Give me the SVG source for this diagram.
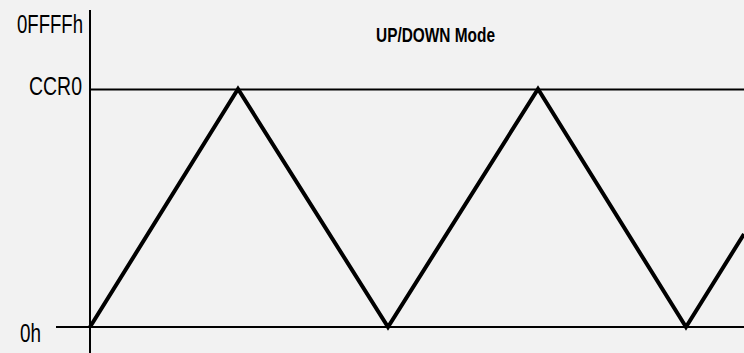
<svg xmlns="http://www.w3.org/2000/svg" width="744" height="353" viewBox="0 0 744 353">
<style>
.lbl{font-family:"Liberation Sans",Arial,sans-serif;font-size:25px;fill:#000}
.ttl{font-family:"Liberation Sans",Arial,sans-serif;font-size:20px;font-weight:bold;fill:#000}
.ax{stroke:#000;stroke-width:2;fill:none}
.wave{stroke:#000;stroke-width:4;fill:none;stroke-linejoin:miter}
</style>
<rect width="744" height="353" fill="#f2f2f2"/>
<g id="axes">
<line class="ax" x1="90" y1="10" x2="90" y2="353"/>
<line class="ax" x1="90" y1="89.5" x2="744" y2="89.5"/>
<line class="ax" x1="56" y1="327" x2="744" y2="327"/>
</g>
<g id="labels">
<text class="lbl" x="17" y="33" textLength="66" lengthAdjust="spacingAndGlyphs">0FFFFh</text>
<text class="lbl" x="29" y="95" textLength="53" lengthAdjust="spacingAndGlyphs">CCR0</text>
<text class="lbl" x="20" y="342" textLength="21" lengthAdjust="spacingAndGlyphs">0h</text>
<text class="ttl" x="376" y="42" textLength="119" lengthAdjust="spacingAndGlyphs">UP/DOWN Mode</text>
</g>
<g id="connectors">
<polyline class="wave" points="90,327 238,89 388,327 538,89 686,327 744,234"/>
</g>
</svg>
